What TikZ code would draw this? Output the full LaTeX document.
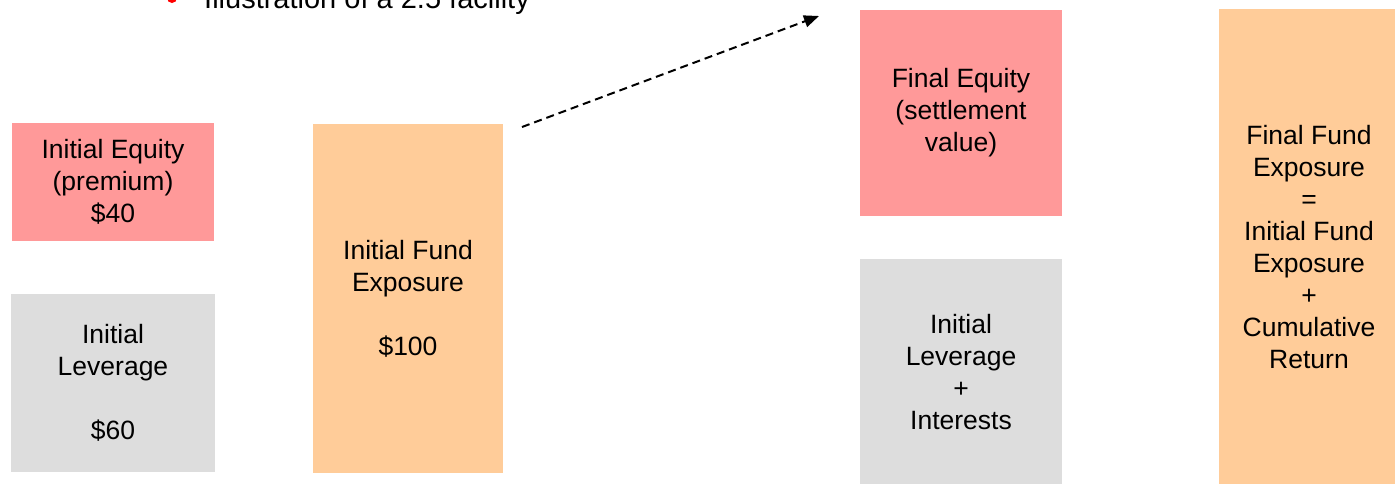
\documentclass[tikz,border=0pt]{standalone}
\usepackage{fontspec}
\setmainfont{Liberation Sans}
\usetikzlibrary{arrows.meta}
\definecolor{eqpink}{HTML}{FF9999}
\definecolor{levgrey}{HTML}{DDDDDD}
\definecolor{fundorange}{HTML}{FFCC99}
\begin{document}
\begin{tikzpicture}[x=1pt,y=-1pt,
  box/.style={inner sep=0pt,align=center,font=\fontsize{26.5}{32}\selectfont},
  conn/.style={line width=2pt,dash pattern=on 8pt off 5pt,-{Triangle[length=15pt,width=12pt]}}]
\useasboundingbox (0,0) rectangle (1395,483);
\clip (0,0) rectangle (1395,483);
% title (cut at top)
\fill[red] (172,-2) circle (5);
\node[anchor=base west,inner sep=0pt,font=\fontsize{29}{34}\selectfont] (title) at (204,8) {Illustration of a 2.5 facility};
% boxes
\node[box,fill=eqpink,minimum width=202pt,minimum height=118pt] (ieq) at (113,182) {\raisebox{-1.5pt}{\parbox{200pt}{\centering Initial Equity\\(premium)\\\$40}}};
\node[box,fill=levgrey,minimum width=204pt,minimum height=178pt] (ilev) at (113,383) {\raisebox{-1.5pt}{\parbox{200pt}{\centering Initial\\Leverage\\[32pt]\$60}}};
\node[box,fill=fundorange,minimum width=190pt,minimum height=349pt] (ifund) at (408,298.5) {\raisebox{-1.5pt}{\parbox{186pt}{\centering Initial Fund\\Exposure\\[32pt]\$100}}};
\node[box,fill=eqpink,minimum width=202pt,minimum height=206pt] (feq) at (961,113) {\raisebox{-2pt}{\parbox{200pt}{\centering Final Equity\\(settlement\\value)}}};
\node[box,fill=levgrey,minimum width=202pt,minimum height=226pt] (flev) at (961,372) {\raisebox{-2pt}{\parbox{200pt}{\centering Initial\\Leverage\\+\\Interests}}};
\node[box,fill=fundorange,minimum width=180pt,minimum height=476pt] (ffund) at (1309,247) {\raisebox{-3pt}{\parbox{178pt}{\centering Final Fund\\Exposure\\=\\Initial Fund\\Exposure\\+\\Cumulative\\Return}}};
% arrow
\coordinate (as) at (522,127);
\coordinate (ae) at (819,16);
\draw[conn] (as) -- (ae);
\end{tikzpicture}
\end{document}
